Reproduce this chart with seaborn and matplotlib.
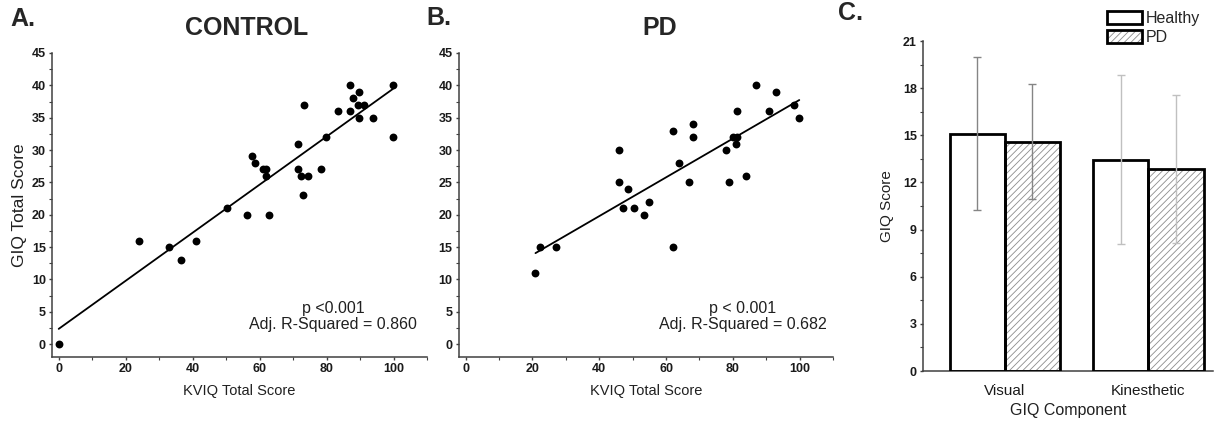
import matplotlib
matplotlib.use("Agg")
import matplotlib.pyplot as plt
from matplotlib.patches import Patch, Rectangle
from matplotlib.legend_handler import HandlerTuple
from matplotlib.ticker import MultipleLocator
import numpy as np
import pandas as pd
import seaborn as sns

# Panel A: control group (KVIQ vs GIQ)
ctrl_kviq = [0, 24, 33, 36.5, 41, 50.4, 56.3, 62.9, 57.8, 58.6, 61, 61.8, 61.8,
             71.4, 71.4, 72.4, 74.4, 72.9, 73.3, 78.4, 79.9, 83.4, 86.9, 86.9,
             87.9, 89.8, 89.3, 91.3, 89.8, 93.8, 99.8, 99.8]
ctrl_giq = [0, 16, 15, 13, 16, 21, 20, 20, 29, 28, 27, 27, 26,
            31, 27, 26, 26, 23, 37, 27, 32, 36, 40, 36,
            38, 39, 37, 37, 35, 35, 40, 32]

# Panel B: PD group
pd_kviq = [20.9, 22.4, 26.9, 46, 46, 47, 48.5, 50.5, 53.5, 55, 62, 62, 64, 67,
           68, 68, 78, 79, 80, 81.4, 81, 81.4, 83.9, 86.9, 90.9, 92.9, 98.4, 99.9]
pd_giq = [11, 15, 15, 30, 25, 21, 24, 21, 20, 22, 33, 15, 28, 25,
          34, 32, 30, 25, 32, 32, 31, 36, 26, 40, 36, 39, 37, 35]

# Panel C: GIQ component means and SD
components = ["Visual", "Kinesthetic"]
groups = ["Healthy", "PD"]
healthy_mean = [15.1, 13.45]
healthy_sd = [4.88, 5.39]
pdgrp_mean = [14.6, 12.85]
pdgrp_sd = [3.64, 4.7]
err_colors = ["#858585", "#c0c0c0"]

sns.set_style("ticks")
plt.rcParams["font.family"] = ["Liberation Sans", "DejaVu Sans"]
plt.rcParams["hatch.linewidth"] = 0.6

W, H = 1214, 423
fig = plt.figure(figsize=(W / 100, H / 100), dpi=100)


def box(l, t, r, b):
    return [l / W, 1 - b / H, (r - l) / W, (b - t) / H]


def style_axes(ax):
    sns.despine(ax=ax)
    for s in ("left", "bottom"):
        ax.spines[s].set_linewidth(1.1)
        ax.spines[s].set_color("#404040")
    ax.tick_params(which="major", length=2.5, width=1, color="#404040",
                   labelsize=9, pad=2, labelcolor="#1a1a1a")
    ax.tick_params(which="minor", length=2, width=0.8, color="#404040")
    for lab in ax.get_xticklabels() + ax.get_yticklabels():
        lab.set_fontweight("bold")


def scatter_panel(ax, x, y, stats, stat_xy):
    df = pd.DataFrame({"kviq": x, "giq": y})
    sns.scatterplot(data=df, x="kviq", y="giq", ax=ax, color="black",
                    s=32, linewidth=0, zorder=3)
    sns.regplot(data=df, x="kviq", y="giq", ax=ax, scatter=False, ci=None,
                color="black", line_kws={"linewidth": 1.3})
    ax.set_xlim(-2, 110)
    ax.set_ylim(-2, 45)
    ax.set_xticks(range(0, 101, 20))
    ax.set_yticks(range(0, 46, 5))
    ax.xaxis.set_minor_locator(MultipleLocator(10))
    ax.yaxis.set_minor_locator(MultipleLocator(2.5))
    style_axes(ax)
    ax.set_xlabel("KVIQ Total Score", fontsize=10.5, color="#202020", labelpad=6)
    ax.set_ylabel("")
    ax.text(stat_xy[0], stat_xy[1], stats, ha="center", va="center",
            fontsize=11.5, color="#202020", linespacing=1.05)


# A
axA = fig.add_axes(box(52, 53, 427, 357))
scatter_panel(axA, ctrl_kviq, ctrl_giq, "p <0.001\nAdj. R-Squared = 0.860", (82, 4.3))
axA.set_ylabel("GIQ Total Score", fontsize=12.5, color="#202020", labelpad=3)

# B
axB = fig.add_axes(box(459, 53, 833, 357))
scatter_panel(axB, pd_kviq, pd_giq, "p < 0.001\nAdj. R-Squared = 0.682", (83, 4.3))

# C
axC = fig.add_axes(box(923, 41, 1213, 371))
bar_df = pd.DataFrame({
    "component": components * 2,
    "group": [groups[0]] * 2 + [groups[1]] * 2,
    "score": healthy_mean + pdgrp_mean,
})
sns.barplot(data=bar_df, x="component", y="score", hue="group", ax=axC,
            palette=["white", "white"], width=0.77, errorbar=None, legend=False)
bar_sets = list(axC.containers)

for bar in bar_sets[1]:
    bar.set_hatch("/////")
    bar.set_edgecolor("#8c8c8c")
    bar.set_linewidth(0)

sds = [healthy_sd, pdgrp_sd]
for gi, cont in enumerate(bar_sets):
    for ci, bar in enumerate(cont.patches):
        x0, y0 = bar.get_x(), bar.get_y()
        w, h = bar.get_width(), bar.get_height()
        axC.add_patch(Rectangle((x0, y0), w, h, fill=False, edgecolor="black",
                                linewidth=2, zorder=3))
        axC.errorbar(x0 + w / 2, h, yerr=sds[gi][ci], fmt="none",
                     ecolor=err_colors[ci], elinewidth=1, capsize=3, capthick=1,
                     zorder=4)

axC.set_xlim(-0.57, 1.45)
axC.set_ylim(0, 21)
axC.set_yticks(range(0, 22, 3))
axC.yaxis.set_minor_locator(MultipleLocator(1.5))
style_axes(axC)
axC.tick_params(axis="x", which="both", length=0, labelsize=11, pad=9)
for lab in axC.get_xticklabels():
    lab.set_fontweight("normal")
axC.set_xlabel("GIQ Component", fontsize=11.5, color="#202020", labelpad=4)
axC.set_ylabel("GIQ Score", fontsize=11, color="#202020", labelpad=6)

h_healthy = Patch(facecolor="white", edgecolor="black", linewidth=2)
h_pd_fill = Patch(facecolor="white", edgecolor="#8c8c8c", hatch="/////", linewidth=0)
h_pd_edge = Patch(facecolor="none", edgecolor="black", linewidth=2)
fig.legend([h_healthy, (h_pd_fill, h_pd_edge)], groups,
           handler_map={tuple: HandlerTuple(ndivide=1)},
           loc="upper left", bbox_to_anchor=(1107 / W, 1 - 11 / H),
           frameon=False, borderpad=0, borderaxespad=0, fontsize=11.5,
           handlelength=2.2, handleheight=0.85, handletextpad=0.25,
           labelspacing=0.25)

# panel letters and titles
fig.text(10 / W, 1 - 19 / H, "A.", fontsize=18, fontweight="bold", va="center")
fig.text(247 / W, 1 - 28 / H, "CONTROL", fontsize=18, fontweight="bold",
         ha="center", va="center")
fig.text(426 / W, 1 - 18 / H, "B.", fontsize=18, fontweight="bold", va="center")
fig.text(660 / W, 1 - 28 / H, "PD", fontsize=18, fontweight="bold",
         ha="center", va="center")
fig.text(838 / W, 1 - 13 / H, "C.", fontsize=18, fontweight="bold", va="center")

fig.savefig("out.png", dpi=100)
plt.close(fig)
